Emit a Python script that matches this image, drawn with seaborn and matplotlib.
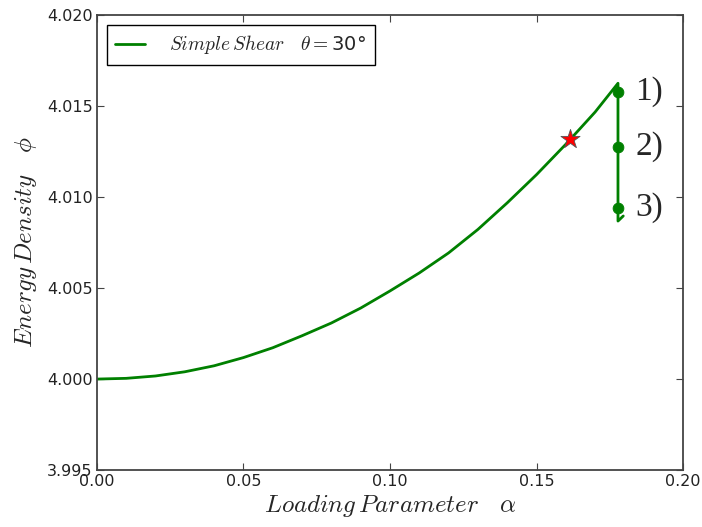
import numpy as np
import pandas as pd
import seaborn as sns
import matplotlib.pyplot as plt

# 加载路径: 加载曲线 (读取自图)
alpha = [0.00, 0.01, 0.02, 0.03, 0.04, 0.05, 0.06, 0.07, 0.08, 0.09,
         0.10, 0.11, 0.12, 0.13, 0.14, 0.15, 0.16, 0.17, 0.1778]
phi = [4.00000, 4.00004, 4.00017, 4.00040, 4.00073, 4.00118, 4.00172, 4.00238,
       4.00308, 4.00390, 4.00484, 4.00583, 4.00693, 4.00822, 4.00968, 4.01123,
       4.01290, 4.01467, 4.01625]

# 卸载后的垂直下降段
drop_alpha = [0.1778, 0.1778, 0.1796]
drop_phi = [4.01625, 4.00868, 4.00896]

# 标记点 1) 2) 3)
state_alpha = [0.1778, 0.1778, 0.1778]
state_phi = [4.01577, 4.01276, 4.00941]
state_labels = ['1)', '2)', '3)']

# 红色星号
star_alpha = [0.1614]
star_phi = [4.01317]

curve = pd.DataFrame({'alpha': alpha + drop_alpha, 'phi': phi + drop_phi})

sns.set_style("ticks")
plt.rcParams['font.family'] = ['DejaVu Sans']
plt.rcParams['mathtext.fontset'] = 'cm'
plt.rcParams['xtick.direction'] = 'in'
plt.rcParams['ytick.direction'] = 'in'
plt.rcParams['xtick.top'] = True
plt.rcParams['ytick.right'] = True

fig = plt.figure(figsize=(7.02, 5.27), dpi=100)
ax = fig.add_axes([0.138, 0.108, 0.835, 0.8635])

green = (0, 0.5, 0)
sns.lineplot(data=curve, x='alpha', y='phi', sort=False, estimator=None,
             color=green, linewidth=2, ax=ax,
             label=r'$Simple\,Shear\quad\theta=$' + '30°')
sns.scatterplot(x=state_alpha, y=state_phi, color=green, s=60, edgecolor=green,
                ax=ax, zorder=3)
sns.scatterplot(x=star_alpha, y=star_phi, color='red', marker='*', s=210,
                edgecolor='#555555', linewidth=0.6, ax=ax, zorder=4)

for a, p, t in zip(state_alpha, state_phi, state_labels):
    ax.text(a + 0.0060, p, t, fontsize=24, family='Liberation Serif',
            va='center', ha='left')

ax.set_xlim(0.0, 0.20)
ax.set_ylim(3.995, 4.020)
ax.set_xticks([0.00, 0.05, 0.10, 0.15, 0.20])
ax.set_yticks([3.995, 4.000, 4.005, 4.010, 4.015, 4.020])
ax.set_xticklabels(['0.00', '0.05', '0.10', '0.15', '0.20'])
ax.set_yticklabels(['3.995', '4.000', '4.005', '4.010', '4.015', '4.020'])
ax.tick_params(labelsize=11.5, length=5, color='#444444', labelcolor='#222222', pad=3)
for s in ax.spines.values():
    s.set_color('#444444')
    s.set_linewidth(1.3)

ax.set_xlabel(r'$Loading\,Parameter\quad\alpha$', fontsize=18, labelpad=3)
ax.set_ylabel(r'$Energy\,Density\quad\phi$', fontsize=18, labelpad=6)

leg = ax.legend(loc='upper left', fontsize=14, fancybox=False, framealpha=1,
                edgecolor='black', handlelength=1.55, handletextpad=1.2,
                borderpad=0.45, borderaxespad=0.5)
leg.get_frame().set_linewidth(1.0)

fig.savefig('out.png', dpi=100)
